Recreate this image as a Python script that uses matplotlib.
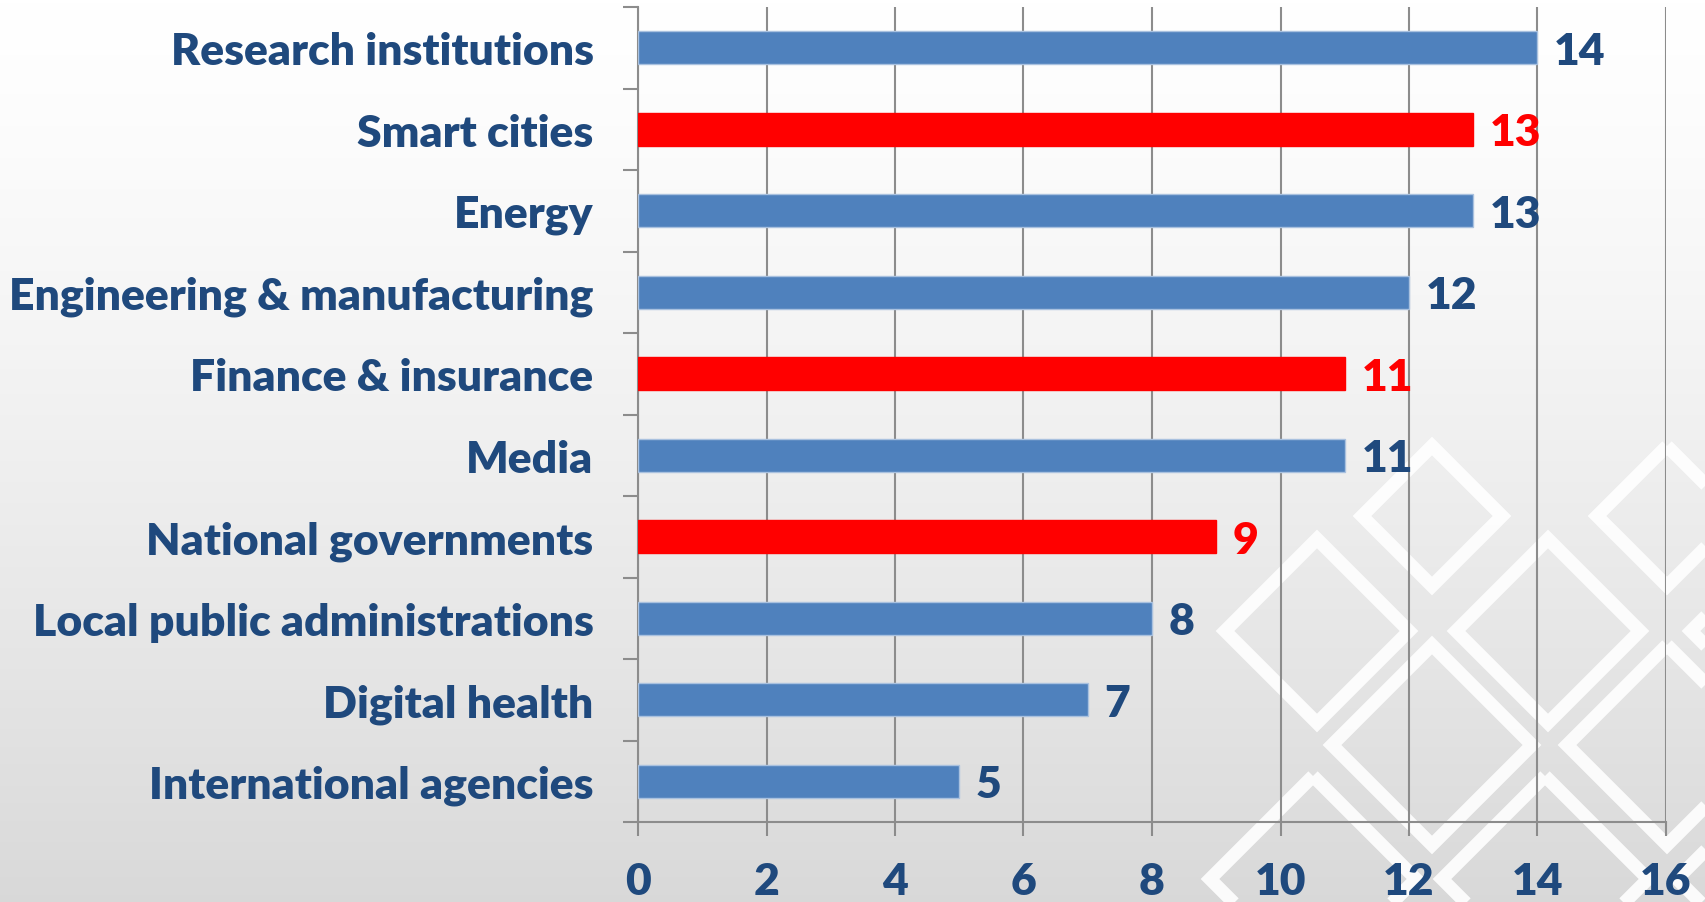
import numpy as np
import matplotlib.pyplot as plt
from matplotlib.patches import Polygon

plt.rcParams['font.family'] = ['Lato', 'DejaVu Sans']
plt.rcParams['font.weight'] = 'bold'

# data, top to bottom as in the chart
categories = ['Research institutions', 'Smart cities', 'Energy',
              'Engineering & manufacturing', 'Finance & insurance', 'Media',
              'National governments', 'Local public administrations',
              'Digital health', 'International agencies']
values = [14, 13, 13, 12, 11, 11, 9, 8, 7, 5]
highlight = [False, True, False, False, True, False, True, False, False, False]
xticks = [0, 2, 4, 6, 8, 10, 12, 14, 16]

blue = '#4f81bd'
red = '#ff0000'
navy = '#1f497d'
grey = '#8c8c8c'
fs = 32
wt = 'heavy'

W, H = 1705, 903
fig = plt.figure(figsize=(W / 100, H / 100), dpi=100)

# background gradient + decorative diamonds
bg = fig.add_axes([0, 0, 1, 1], zorder=0)
grad = np.linspace(0, 1, 256) ** 1.3
top, bot = np.array([1.0, 1.0, 1.0]), np.array([0.85, 0.85, 0.85])
img = top[None, :] * (1 - grad[:, None]) + bot[None, :] * grad[:, None]
img = np.repeat(img[:, None, :], 2, axis=1)
bg.imshow(img, extent=[0, W, H, 0], aspect='auto')
# (cx, cy, half diagonal) in pixels -- decoration only
diamonds = [(1432, 517, 70), (1667, 517, 70),
            (1317, 632, 92), (1548, 632, 92), (1783, 632, 92),
            (1432, 746, 100), (1667, 746, 100),
            (1313, 880, 103), (1545, 880, 103), (1780, 880, 103)]
for cx, cy, r in diamonds:
    bg.add_patch(Polygon([(cx, cy - r), (cx + r, cy), (cx, cy + r), (cx - r, cy)],
                         closed=True, fill=False, edgecolor='white',
                         linewidth=9.5, alpha=0.9, joinstyle='miter'))
bg.set_xlim(0, W)
bg.set_ylim(H, 0)
bg.axis('off')

ax = fig.add_axes([638 / W, 80 / H, (1666 - 638) / W, (895 - 80) / H], zorder=1)
ax.patch.set_alpha(0)

y = np.arange(len(categories))
colors = [red if h else blue for h in highlight]
edges = [red if h else '#a9c1df' for h in highlight]
ax.barh(y, values, height=0.4, color=colors, edgecolor=edges, linewidth=1, zorder=3)

# value labels: baseline pushed down by half the cap height so digits sit centred on the bar
for yi, v, h in zip(y, values, highlight):
    ax.annotate(str(v), (v, yi), xytext=(12, -0.36 * fs), textcoords='offset points',
                va='baseline', ha='left', fontsize=fs, fontweight=wt,
                color=red if h else navy, zorder=4)

ax.set_xlim(0, 16)
ax.set_ylim(len(categories) - 0.5, -0.5)
ax.set_xticks(xticks)
ax.set_xticklabels([str(t) for t in xticks])
ax.set_yticks(y)
ax.set_yticklabels(categories)
ax.set_yticks(np.arange(-0.5, len(categories), 1), minor=True)

ax.grid(axis='x', color=grey, linewidth=1.5, zorder=1)
ax.tick_params(axis='x', length=10, width=1.5, color=grey, pad=18,
               labelsize=fs, labelcolor=navy)
ax.tick_params(axis='y', which='major', length=0, pad=32,
               labelsize=fs, labelcolor=navy)
ax.tick_params(axis='y', which='minor', length=11, width=1.5, color=grey)
for lbl in ax.get_xticklabels() + ax.get_yticklabels():
    lbl.set_fontweight(wt)

for s in ['top', 'right']:
    ax.spines[s].set_visible(False)
for s in ['left', 'bottom']:
    ax.spines[s].set_color(grey)
    ax.spines[s].set_linewidth(1.5)

fig.savefig('out.png', dpi=100)
